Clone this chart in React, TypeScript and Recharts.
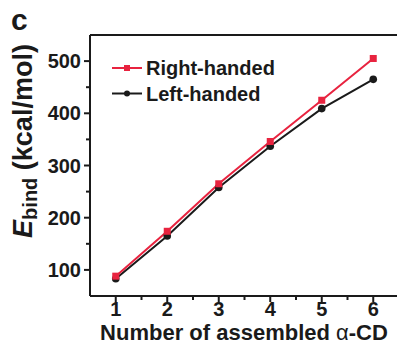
import { LineChart, Line, XAxis, YAxis, ReferenceLine } from 'recharts';

// binding energy (kcal/mol) vs. number of assembled α-CD
const assembled = [1, 2, 3, 4, 5, 6];
const rightHanded = [88, 174, 265, 346, 425, 505];
const leftHanded = [83, 165, 258, 337, 409, 465];

const xTicks = [1, 1.5, 2, 2.5, 3, 3.5, 4, 4.5, 5, 5.5, 6];
const yTicks = [100, 150, 200, 250, 300, 350, 400, 450, 500];

const RED = '#e8233f';
const INK = '#1a1a1a';
const FONT = '"Liberation Sans", Arial, sans-serif';

const data = assembled.map((n, i) => ({
  n,
  right: rightHanded[i],
  left: leftHanded[i],
}));

const series = [
  { key: 'right', name: 'Right-handed', color: RED, shape: 'square' },
  { key: 'left', name: 'Left-handed', color: INK, shape: 'circle' },
];

function XTick({ x, y, payload }: any) {
  const major = Number.isInteger(payload.value);
  return (
    <g>
      <path d={`M${x},${y}V${y + (major ? 6 : 4)}`} stroke={INK} strokeWidth={2} fill="none" />
      {major && (
        <text x={x} y={y + 20} textAnchor="middle" fontSize={20} fontWeight="bold" fill={INK} fontFamily={FONT}>
          {payload.value}
        </text>
      )}
    </g>
  );
}

function YTick({ x, y, payload }: any) {
  const major = payload.value % 100 === 0;
  return (
    <g>
      <path d={`M${x},${y}H${x - (major ? 6 : 4)}`} stroke={INK} strokeWidth={2} fill="none" />
      {major && (
        <text x={x - 9} y={y + 7} textAnchor="end" fontSize={20} fontWeight="bold" fill={INK} fontFamily={FONT}>
          {payload.value}
        </text>
      )}
    </g>
  );
}

function Square({ cx, cy }: any) {
  if (cx == null || cy == null) return null;
  return <rect x={cx - 3.5} y={cy - 3.5} width={7} height={7} fill={RED} />;
}

function Dot({ cx, cy }: any) {
  if (cx == null || cy == null) return null;
  return <circle cx={cx} cy={cy} r={3.8} fill={INK} />;
}

function LegendRows({ x, y }: { x: number; y: number }) {
  return (
    <g transform={`translate(${x}, ${y})`}>
      {series.map((s, i) => {
        const ry = i * 25.5;
        return (
          <g key={s.key}>
            <line x1={0} x2={30} y1={ry} y2={ry} stroke={s.color} strokeWidth={2} />
            {s.shape === 'square' ? (
              <rect x={12} y={ry - 3} width={6} height={6} fill={s.color} />
            ) : (
              <circle cx={15} cy={ry} r={3} fill={s.color} />
            )}
            <text x={34} y={ry + 7} fontSize={20} fontWeight="bold" fill={INK} fontFamily={FONT}>
              {s.name}
            </text>
          </g>
        );
      })}
    </g>
  );
}

export default function App() {
  return (
    <div style={{ position: 'absolute', left: 0, top: 0, width: 397, height: 346, overflow: 'hidden', background: '#fff' }}>
      <svg width={397} height={346} style={{ position: 'absolute', left: 0, top: 0 }}>
        <text x={11} y={30} fontSize={30} fontWeight="bold" fill={INK} fontFamily={FONT}>c</text>
        <text
          x={32}
          y={141}
          transform="rotate(-90, 32, 141)"
          textAnchor="middle"
          fontSize={27}
          fontWeight="bold"
          fill={INK}
          fontFamily={FONT}
        >
          <tspan fontStyle="italic">E</tspan>
          <tspan fontSize={20} dy={5}>bind</tspan>
          <tspan dy={-5}> (kcal/mol)</tspan>
        </text>
        <text x={244} y={340} textAnchor="middle" fontSize={22} fontWeight="bold" fill={INK} fontFamily={FONT}>
          Number of assembled <tspan fontWeight="normal">α</tspan>-CD
        </text>
        <LegendRows x={112} y={68} />
      </svg>
      <LineChart
        width={399}
        height={346}
        data={data}
        margin={{ top: 35, right: 0, bottom: 0, left: 0 }}
        style={{ position: 'absolute', left: 0, top: 0 }}
      >
        <XAxis
          dataKey="n"
          type="number"
          domain={[0.5, 6.5]}
          ticks={xTicks}
          interval={0}
          height={50}
          tickSize={0}
          tickMargin={0}
          tickLine={false}
          axisLine={{ stroke: INK, strokeWidth: 2 }}
          stroke={INK}
          tick={<XTick />}
        />
        <YAxis
          type="number"
          domain={[50, 550]}
          ticks={yTicks}
          interval={0}
          width={90}
          tickSize={0}
          tickMargin={0}
          tickLine={false}
          axisLine={{ stroke: INK, strokeWidth: 2 }}
          stroke={INK}
          tick={<YTick />}
        />
        <ReferenceLine y={550} stroke={INK} strokeWidth={2} ifOverflow="visible" />
        <ReferenceLine x={6.5} stroke={INK} strokeWidth={2} ifOverflow="visible" />
        <Line
          dataKey="left"
          name="Left-handed"
          stroke={INK}
          strokeWidth={2}
          dot={<Dot />}
          activeDot={false}
          isAnimationActive={false}
        />
        <Line
          dataKey="right"
          name="Right-handed"
          stroke={RED}
          strokeWidth={2}
          dot={<Square />}
          activeDot={false}
          isAnimationActive={false}
        />
      </LineChart>
    </div>
  );
}
